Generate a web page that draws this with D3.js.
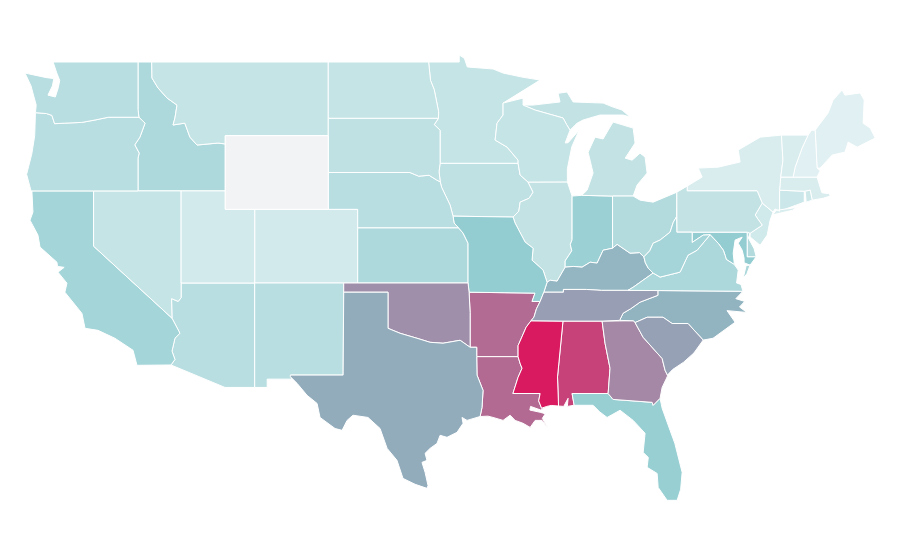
<!DOCTYPE html>
<html>
<head>
<meta charset="utf-8">
<script src="https://cdn.jsdelivr.net/npm/d3@7"></script>
<style>
  html, body { margin: 0; background: #fff; }
  .state { stroke: #fff; stroke-width: 1; stroke-linejoin: round; }
</style>
</head>
<body>
<div id="map"></div>
<script>
var svgWidth = 900, svgHeight = 560;

// index
var stateNames = ["AL","AR","AZ","CA","CO","CT","DE","FL","GA","IA","ID","IL","IN","KS","KY","LA","MA","MD","ME","MI","MN","MO","MS","MT","NC","ND","NE","NH","NJ","NM","NV","NY","OH","OK","OR","PA","RI","SC","SD","TN","TX","UT","VA","VT","WA","WI","WV","WY"];
var stateValues = [89,77.5,30,41,16,19,33,48,70,26,36,25,46,36,57,78,12,50,8,25,23,50,100,23,58,23,30,8,17,30,23,12,33,68,30,25,18,63,26,63.5,60,16,37,12,30,23,40,0];

var colorDomain = [0, 5, 50, 60, 100];
var colorRange = ["#f2f3f5", "#e6f3f4", "#94cdd1", "#92acbc", "#da1a60"];

// shared borders, [lon, lat]
var stCroix = [[-92.17,46.77],[-92.17,46.12],[-92.58,45.68],[-92.71,44.76],[-91.9,44.38],[-91.15,43.67],[-91.15,43.5]];
var missIaWi = [[-91.15,43.5],[-91.01,42.86],[-90.47,42.48]];
var missIaIl = [[-90.47,42.48],[-90.13,41.93],[-90.4,41.6],[-91.01,41.39],[-91.1,40.9],[-91.49,40.58]];
var missMoIl = [[-91.49,40.58],[-91.35,40.25],[-90.67,39.22],[-90.13,38.89],[-90.2,38.24],[-89.45,37.7],[-89.18,37.04]];
var missKyMo = [[-89.18,37.04],[-89.4,36.5]];
var missTnMo = [[-89.4,36.5],[-89.65,36.0]];
var missTnAr = [[-89.65,36.0],[-89.9,35.6],[-90.07,35.15],[-90.27,34.95]];
var missArMs = [[-90.27,34.95],[-90.6,34.6],[-91.15,33.6],[-91.15,33.0]];
var missLaMs = [[-91.15,33.0],[-91.0,32.6],[-90.88,32.37],[-91.15,31.88],[-91.5,31.0]];
var pearl = [[-89.65,31.0],[-89.75,30.6],[-89.55,30.2]];
var ohioIl = [[-89.18,37.04],[-88.97,37.15],[-88.5,37.1],[-87.95,37.86]];
var ohioIn = [[-87.95,37.86],[-87.4,37.9],[-86.8,37.86],[-86.25,38.13],[-85.78,38.08],[-85.37,38.78],[-84.73,38.89]];
var ohioOh = [[-84.73,38.89],[-84.42,39.1],[-83.54,38.62],[-82.9,38.65],[-82.6,38.42]];
var ohioWv = [[-82.6,38.42],[-82.2,38.75],[-81.97,39.16],[-81.5,39.33],[-80.82,39.76],[-80.6,40.3],[-80.38,40.6]];
var wabash = [[-87.48,41.72],[-87.48,39.35],[-87.6,39.1],[-87.5,38.75],[-87.95,38.2],[-87.95,37.86]];
var bigSandy = [[-82.6,38.42],[-82.5,38.1],[-82.3,37.8],[-81.97,37.54]];
var kyVa = [[-81.97,37.54],[-83.33,36.77],[-83.68,36.6]];
var kyTn = [[-83.68,36.6],[-85.5,36.6],[-86.5,36.65],[-88.07,36.65],[-88.07,36.5],[-89.4,36.5]];
var tnNc = [[-81.65,36.59],[-81.65,36.33],[-82.86,35.96],[-83.5,35.6],[-84.01,35.36],[-84.25,34.97]];
var ncSc = [[-83.2,34.85],[-82.38,35.14],[-81.3,35.14],[-80.68,34.8],[-79.6,34.8],[-78.57,33.9]];
var savannah = [[-83.2,34.85],[-82.65,34.05],[-81.7,33.2],[-81.36,32.9],[-81.16,32.26],[-81.0,32.0]];
var gaAl = [[-85.44,34.93],[-85.24,33.73],[-84.9,32.37],[-85.03,31.0]];
var gaFl = [[-85.03,31.0],[-84.7,30.68],[-82.04,30.52],[-81.97,30.36],[-81.5,30.74]];
var alMs = [[-88.1,34.93],[-88.47,31.9],[-88.4,30.32]];
var alFl = [[-87.48,30.95],[-87.34,30.36]];
var redRiver = [[-99.99,34.54],[-99.17,34.27],[-98.02,34],[-97.13,33.78],[-96.25,33.73],[-95.09,33.89],[-94.41,33.51]];
var sabine = [[-93.96,33],[-93.94,32],[-93.53,31.17],[-93.6,30.25],[-93.73,29.75]];
var colorado = [[-114.74,32.55],[-114.47,32.85],[-114.67,33.3],[-114.47,34],[-114.13,34.27],[-114.67,35.09]];
var idMt = [[-116.05,49],[-116.03,48.13],[-115.62,47.59],[-115.0,47.04],[-114.33,46.66],[-114.47,45.96],[-114.6,45.58],[-113.8,45.68],[-113.45,44.92],[-112.97,44.49],[-111.55,44.6],[-111.05,44.55]];
var idOr = [[-116.92,46],[-116.5,45.68],[-116.85,44.92],[-117.2,44.5],[-116.9,44.05],[-116.98,43.78],[-116.98,42]];
var columbia = [[-123.95,46.25],[-123.2,46.2],[-122.83,46.1],[-122.65,45.65],[-121.95,45.68],[-120.8,45.72],[-119.9,45.85],[-119,46],[-116.92,46]];
var redNorth = [[-97.23,49],[-97.1,48],[-96.85,47.5],[-96.55,46.3],[-96.56,45.94]];
var moIa = [[-96.44,42.49],[-96.35,42.2],[-95.77,41.23],[-95.57,40.63]];
var moNe = [[-95.57,40.63],[-95.5,40.26],[-95.2,40]];
var moKs = [[-95.2,40],[-94.89,39.71],[-94.55,39.16],[-94.55,37]];
var bigSioux = [[-96.45,43.5],[-96.52,43.05],[-96.44,42.49]];
var neSd = [[-104.05,43],[-98.5,43],[-97.9,42.8],[-97.2,42.85],[-96.7,42.6],[-96.44,42.49]];
var sdMn = [[-96.56,45.94],[-96.85,45.6],[-96.45,45.3],[-96.45,43.5]];
var wiUp = [[-90.81,46.66],[-89.99,46.39],[-88.09,45.96],[-87.85,45.6],[-87.62,45.3]];
var delaware = [[-74.9,42.0],[-74.56,41.34]];
var paNj = [[-74.56,41.34],[-75.04,40.69],[-74.56,40.14],[-75.38,39.7]];
var potomac = [[-76.45,38.0],[-77.0,38.28],[-77.08,38.5],[-77.2,38.78],[-77.55,39.16],[-78.1,39.62]];
var vaWv = [[-78.1,39.62],[-78.98,38.78],[-79.6,38.51],[-80.14,37.59],[-81.5,37.32],[-81.97,37.54]];
var mdWv = [[-78.1,39.62],[-78.57,39.6],[-79.32,39.2],[-79.32,39.76]];
var nhVt = [[-71.44,45.03],[-71.85,44.33],[-72.32,43.29],[-72.46,42.75]];
var nyVt = [[-73.25,45.03],[-73.15,43.67],[-73.3,42.75]];

function rev(line) { return line.slice().reverse(); }
function ring() { return [].concat.apply([], arguments); }

var stateRings = {
  WA: [ring([[-124.66,48.4],[-123.2,48.15],[-122.7,48.1],[-122.8,47.7],[-123.1,47.2],[-122.6,47.1],[-122.4,47.6],[-122.3,48.0],[-122.5,48.4],[-122.75,49],[-116.98,49],[-116.98,46.42]], rev(columbia), [[-123.9,46.66],[-124.25,47.7]])],
  OR: [ring(columbia, idOr, [[-120,42],[-124.25,42],[-124.55,42.9],[-124.2,44],[-124.0,45]])],
  CA: [ring([[-124.19,42],[-120,42],[-120,39]], rev(colorado), [[-117.05,32.53],[-117.32,33.35],[-118.55,34],[-119.7,34.43],[-120.58,34.54],[-120.79,35.35],[-121.95,36.5],[-121.81,36.99],[-122.42,37.59],[-122.0,37.85],[-122.45,37.9],[-122.49,38.13],[-123.64,38.95],[-123.78,39.6],[-124.32,40.41],[-124.12,40.85]])],
  NV: [ring([[-120,42],[-114.05,42],[-114.05,36.2],[-114.25,36.0],[-114.7,36.15],[-114.67,35.09],[-120,39]])],
  ID: [ring([[-116.98,49]], idMt, [[-111.05,42]], rev(idOr), [[-116.98,46.42]])],
  MT: [ring(rev(idMt), [[-104.05,49],[-104.05,45],[-111.05,45]])],
  WY: [[[-111.05,45],[-104.05,45],[-104.05,41],[-111.05,41]]],
  UT: [[[-114.05,42],[-111.05,42],[-111.05,41],[-109.05,41],[-109.05,37],[-114.05,37]]],
  AZ: [ring([[-114.05,37],[-109.05,37],[-109.05,31.33],[-111.07,31.33],[-114.74,32.55]], colorado, [[-114.7,36.15],[-114.25,36.0],[-114.05,36.2]])],
  CO: [[[-109.05,41],[-102.05,41],[-102.05,37],[-109.05,37]]],
  NM: [[[-109.05,37],[-103,37],[-103.04,32],[-106.62,32],[-106.53,31.78],[-108.2,31.78],[-108.2,31.33],[-109.05,31.33]]],
  TX: [ring([[-103,36.5],[-99.99,36.5]], redRiver, [[-93.96,33.51]], sabine, [[-94.62,29.54],[-94.96,29.7],[-94.89,29.38],[-95.3,28.89],[-95.98,28.62],[-96.45,28.73],[-96.66,28.29],[-97.13,28.02],[-97.47,27.75],[-97.34,27.37],[-97.68,27.26],[-97.47,26.72],[-97.27,26],[-97.34,25.85],[-98.15,26.07],[-98.97,26.39],[-99.38,27.37],[-100.05,28.02],[-100.53,29.1],[-101.35,29.7],[-102.37,29.82],[-102.77,29.54],[-103.11,29],[-103.59,29.1],[-104.61,29.7],[-104.81,30.46],[-105.49,30.9],[-106.17,31.55],[-106.65,31.93],[-106.62,32],[-103.04,32]])],
  OK: [ring([[-103,37],[-94.55,37],[-94.48,36.5],[-94.41,35.4]], rev(redRiver), [[-99.99,36.5],[-103,36.5]])],
  KS: [ring([[-102.05,40]], moKs, [[-102.05,37]])],
  NE: [ring(neSd, moIa, moNe, [[-102.05,40],[-102.05,41],[-104.05,41]])],
  SD: [ring([[-104.05,45.94]], sdMn, bigSioux, rev(neSd))],
  ND: [ring([[-104.05,49]], redNorth, [[-104.05,45.94]])],
  MN: [ring(redNorth.slice(0,1), [[-95.15,49],[-95.15,49.38],[-94.8,49.2],[-94.6,48.73],[-92.85,48.62],[-92.17,48.4],[-90.88,48.18],[-89.65,48.02]], stCroix, rev(sdMn), rev(redNorth))],
  IA: [ring([[-96.45,43.5]], missIaWi, missIaIl, rev(moIa), rev(bigSioux))],
  MO: [ring([[-95.57,40.63]], missMoIl, missKyMo, missTnMo, [[-90.2,36],[-90,36.45],[-94.48,36.5]], rev(moKs), rev(moNe))],
  AR: [ring([[-94.48,36.5],[-90,36.45],[-90.2,36]], missTnAr, missArMs, [[-93.96,33],[-93.96,33.51],[-94.41,33.51],[-94.41,35.4]])],
  LA: [ring([[-93.96,33]], missLaMs, pearl, [[-89.2,30.3],[-89.6,30.1],[-90.3,30.3],[-90.35,30.1],[-89.65,29.98],[-89.3,29.9],[-89.5,29.65],[-89.11,29.1],[-89.52,29.54],[-89.99,29.54],[-90.33,29.16],[-90.81,29.38],[-91.35,29.54],[-91.69,29.82],[-92.17,29.54],[-92.85,29.7],[-93.2,29.77]], rev(sabine))],
  MS: [ring(rev(missLaMs), rev(missArMs), alMs, [[-88.9,30.35],[-89.2,30.3]], rev(pearl))],
  AL: [ring([[-88.1,34.93]], gaAl, [[-87.48,31.0]], alFl.slice(1), [[-87.8,30.3],[-87.75,30.74],[-88.05,30.3]], rev(alMs))],
  FL: [ring([[-87.48,31.0]], gaFl, [[-81.36,30.2],[-80.82,29],[-80.5,28.3],[-80.0,26.72],[-80.1,25.8],[-80.34,25.2],[-81.02,25.2],[-81.63,25.9],[-81.7,26.66],[-82.38,26.99],[-82.3,27.53],[-82.65,27.8],[-82.52,28.84],[-83.33,29.54],[-84.22,30.09],[-85.1,29.7],[-85.6,30.0],[-86.05,30.36],[-87.34,30.36]])],
  GA: [ring(rev(gaAl), [[-83.3,34.95]], savannah, [[-80.82,32.37],[-81.02,31.9],[-81.36,31.33]], rev(gaFl))],
  SC: [ring(ncSc, [[-79.2,33.2],[-79.9,32.7],[-80.65,32.3]], rev(savannah))],
  NC: [ring([[-84.25,34.97]], rev(tnNc), [[-75.87,36.55],[-76.35,36.15],[-75.75,36.0],[-76.1,35.7],[-75.6,35.4],[-76.95,35.5],[-76.4,34.87],[-77.9,34]], rev(ncSc), [[-83.3,34.95]])],
  TN: [ring(rev(kyTn), [[-81.65,36.59]], tnNc, [[-85.44,34.93],[-88.1,34.93],[-90.27,34.95]], rev(missTnAr), rev(missTnMo))],
  KY: [ring(ohioIl, ohioIn, ohioOh, bigSandy, kyVa, kyTn, rev(missKyMo))],
  IL: [ring([[-90.47,42.48],[-87.8,42.49]], wabash, rev(ohioIl), rev(missMoIl), rev(missIaIl))],
  IN: [ring(wabash.slice(0,1), [[-86.82,41.76],[-84.73,41.72]], rev(ohioIn), rev(wabash))],
  WI: [ring(stCroix.slice(0,1), [[-90.81,47.04]], wiUp, [[-87.95,44.6],[-87.75,44.62],[-87.0,45.3],[-87.5,44.4],[-87.8,43.2],[-87.8,42.49]], rev(missIaWi), rev(stCroix))],
  MI: [[[-86.82,41.76],[-84.73,41.72],[-83.33,41.72],[-83.06,42.32],[-82.38,42.97],[-82.52,43.84],[-82.86,44.05],[-83.4,43.67],[-83.87,43.78],[-83.2,44.6],[-83.33,45.41],[-84.69,45.74],[-84.9,45.47],[-85.37,44.82],[-85.92,44.92],[-86.39,44.1],[-86.05,42.97],[-86.46,42.04]],
       ring(wiUp, [[-87.14,45.68],[-86.73,45.85],[-85.58,46.12],[-84.9,46.12],[-84.01,46.12],[-83.54,46.01],[-84.08,46.39],[-84.69,46.55],[-85.37,46.77],[-87.41,46.83],[-87.82,47.37],[-88.43,47.3],[-88.3,46.83],[-90.13,46.66]])],
  OH: [ring([[-84.73,41.72],[-83.33,41.72],[-82.86,41.5],[-81.97,41.39],[-80.36,41.93]], rev(ohioWv), rev(ohioOh))],
  WV: [ring(ohioWv, [[-80.36,39.76]], rev(mdWv), vaWv, rev(bigSandy))],
  VA: [ring([[-83.68,36.6],[-81.65,36.59],[-75.87,36.55],[-76.0,36.92],[-76.3,37.0],[-76.19,37.7]], potomac, vaWv, kyVa),
       [[-75.38,37.97],[-75.65,37.95],[-75.85,37.26],[-75.6,37.5]]],
  PA: [ring([[-80.36,41.93],[-79.66,42.26],[-79.66,42.0]], delaware, paNj, [[-75.58,39.76],[-80.36,39.76]])],
  MD: [ring([[-79.32,39.76],[-75.58,39.76],[-75.58,38.42],[-74.97,38.42],[-75.38,37.97],[-75.79,38.1],[-75.79,38.35],[-75.92,38.78],[-76.19,39.16],[-75.92,39.49],[-76.4,39.33],[-76.53,38.62]], potomac, mdWv)],
  DE: [[[-75.58,39.76],[-75.38,39.7],[-75.5,39.45],[-75.1,38.85],[-74.97,38.42],[-75.58,38.42]]],
  NJ: [ring(paNj, [[-75.38,39.5],[-74.7,39.05],[-74.22,39.6],[-74.02,40.41],[-73.82,40.85]])],
  NY: [ring([[-79.66,42.26],[-78.64,42.75],[-78.91,43.24],[-77.55,43.29],[-76.06,43.57],[-76.19,44.22],[-74.69,44.92]], nyVt, [[-73.38,42.04],[-73.38,40.9],[-73.68,41.02],[-73.82,40.85]], rev(delaware), [[-79.66,42.0]]),
       [[-73.85,40.7],[-73.6,40.95],[-72.2,41.1],[-71.8,41.35],[-72.5,40.95]]],
  VT: [ring(nyVt, rev(nhVt))],
  NH: [ring(nhVt, [[-70.83,42.75],[-70.62,43.1],[-70.83,43.24],[-70.96,45.3],[-71.2,45.3]])],
  ME: [[[-70.96,45.3],[-70.08,46.23],[-69.74,46.93],[-69.13,47.48],[-68.93,47.2],[-67.9,47.32],[-67.63,46.93],[-67.7,45.68],[-67.22,45.41],[-66.88,44.87],[-68.1,44.38],[-68.72,44.65],[-68.93,44.11],[-69.8,43.95],[-70.62,43.24],[-70.83,43.24]]],
  MA: [[[-73.38,42.04],[-73.3,42.75],[-72.46,42.75],[-70.83,42.75],[-70.62,42.2],[-70.5,41.9],[-70.05,41.85],[-70.1,42.05],[-69.94,41.72],[-70.42,41.6],[-71.16,41.5],[-71.3,42.04],[-71.64,41.98]]],
  CT: [[[-73.38,42.04],[-71.7,41.98],[-71.7,41.39],[-73.38,40.9]]],
  RI: [[[-71.64,41.98],[-71.3,42.04],[-71.16,41.5],[-71.57,41.39]]]
};

var xScale = d3.scaleLinear().domain([-111, -104]).range([226, 329]);
var yScale = d3.scaleLinear().domain([49, 37]).range([62, 283]);
var color = d3.scaleLinear().domain(colorDomain).range(colorRange);

var path = d3.geoPath(d3.geoTransform({
  point: function (lon, lat) { this.stream.point(xScale(lon), yScale(lat)); }
}));

function toFeature(name, i) {
  return {
    type: "Feature",
    properties: { name: name, value: stateValues[i] },
    geometry: {
      type: "MultiPolygon",
      coordinates: stateRings[name].map(function (r) { return [r.concat([r[0]])]; })
    }
  };
}

var svg = d3.select("#map").append("svg")
  .attr("width", svgWidth)
  .attr("height", svgHeight);

svg.append("g").selectAll("path")
  .data(stateNames.map(toFeature))
  .enter()
  .append("path")
  .attr("class", "state")
  .attr("d", path)
  .attr("fill", function (d) { return color(d.properties.value); });
</script>
</body>
</html>
